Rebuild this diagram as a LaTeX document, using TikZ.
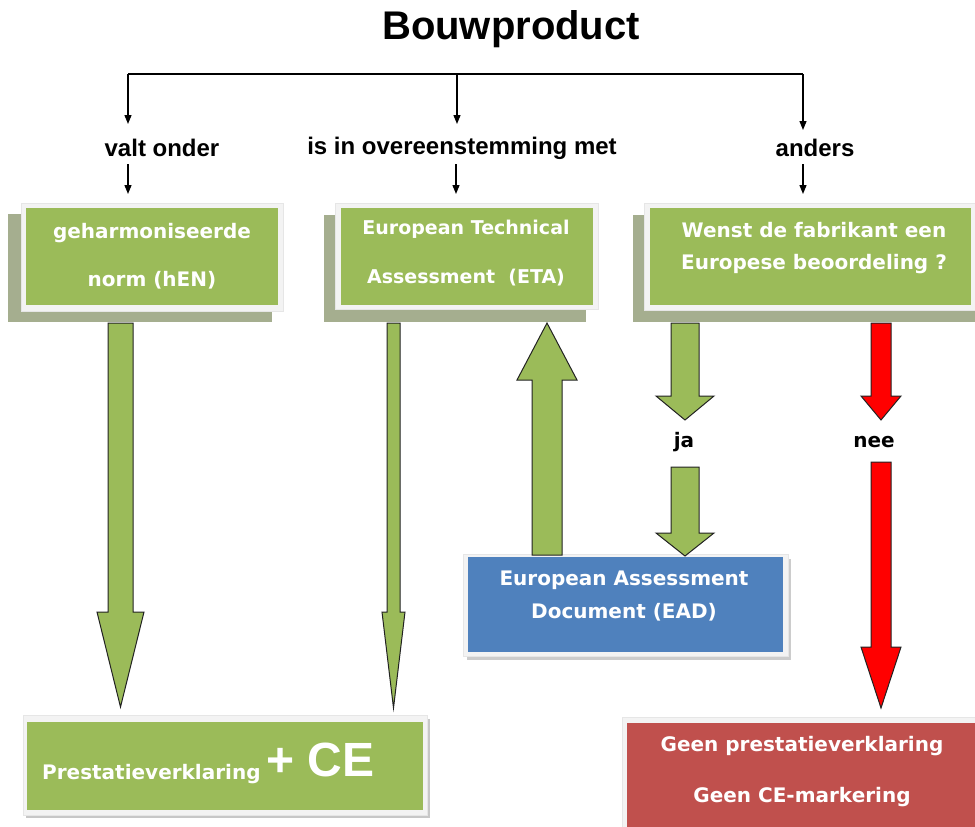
\documentclass[tikz,border=0pt]{standalone}
\usepackage{fontspec}
\setmainfont{Liberation Sans}
\newfontfamily\boxfnt{DejaVu Sans}
\usetikzlibrary{arrows.meta}
\definecolor{greenfill}{HTML}{9BBB59}
\definecolor{shadowgreen}{HTML}{A5AE8F}
\definecolor{framegray}{HTML}{F3F3F3}
\definecolor{frameedge}{HTML}{E6E6E6}
\definecolor{bluefill}{HTML}{4F81BD}
\definecolor{redbox}{HTML}{C0504D}
\definecolor{redarrow}{HTML}{FF0000}
\definecolor{arrowline}{HTML}{222222}
\newcommand{\blockarrow}[7]{% x, y start, y tip, half shaft, half head, y head base, colour
  \filldraw[fill=#7, draw=arrowline, line width=1pt, line join=miter]
    ({#1-#4},{#2}) -- ({#1+#4},{#2}) -- ({#1+#4},{#6}) -- ({#1+#5},{#6})
    -- ({#1},{#3}) -- ({#1-#5},{#6}) -- ({#1-#4},{#6}) -- cycle;}
\begin{document}
\begin{tikzpicture}[x=1pt,y=-1pt,
  shadowrect/.style={fill=shadowgreen, draw=none},
  framerect/.style={fill=framegray, draw=frameedge, line width=0.5pt},
  boxtext/.style={text=white, align=center, font=\boxfnt\bfseries\fontsize{20}{48}\selectfont},
  lbl/.style={font=\bfseries\fontsize{24}{26}\selectfont, text=black},
  treeline/.style={draw=black, line width=1.3pt},
  treearrow/.style={treeline, -{Triangle[length=9pt,width=7pt]}}
]
\useasboundingbox (0,0) rectangle (975,827);

% title
\node (title) at (511,29) {\bfseries\fontsize{40}{42}\selectfont Bouwproduct};

% tree connectors
\coordinate (j1) at (128,74);
\coordinate (j2) at (457,74);
\coordinate (j3) at (803,74);
\coordinate (e1) at (128,124);
\coordinate (e2) at (457,124);
\coordinate (e3) at (803,130);
\draw[treeline] (j1) -- (j3);
\draw[treearrow] (j1) -- (e1);
\draw[treearrow] (j2) -- (e2);
\draw[treearrow] (j3) -- (e3);

\node[lbl] (l1) at (162,148) {valt onder};
\node[lbl] (l2) at (462,148) {is in overeenstemming met};
\node[lbl] (l3) at (815,148) {anders};

\coordinate (s1) at (128,164);
\coordinate (s2) at (456,164);
\coordinate (s3) at (803,164);
\coordinate (t1) at (128,194);
\coordinate (t2) at (456,194);
\coordinate (t3) at (803,194);
\draw[treearrow] (s1) -- (t1);
\draw[treearrow] (s2) -- (t2);
\draw[treearrow] (s3) -- (t3);

% box 1: hEN
\fill[shadowrect] (8,214) rectangle (272,322);
\filldraw[framerect] (21,203) rectangle (283,311);
\fill[greenfill] (26,208) rectangle (278,305);
\node[boxtext] (hen) at (152,256) {geharmoniseerde\\norm (hEN)};

% box 2: ETA
\fill[shadowrect] (324,215) rectangle (586,322);
\filldraw[framerect] (335,203) rectangle (598,309);
\fill[greenfill] (341,208) rectangle (593,305);
\node[boxtext, font=\boxfnt\bfseries\fontsize{19}{49}\selectfont] (eta) at (466,253) {European Technical\\Assessment~~(ETA)};

% box 3: question
\fill[shadowrect] (633,215) rectangle (990,322);
\filldraw[framerect] (644,203) rectangle (990,310);
\fill[greenfill] (650,208) rectangle (971,305);
\node[boxtext, font=\boxfnt\bfseries\fontsize{20}{32}\selectfont] (vraag) at (814,248) {Wenst de fabrikant een\\Europese beoordeling ?};

% EAD box
\fill[black!20] (467,559) rectangle (791,660);
\filldraw[framerect] (463,554) rectangle (788,656);
\fill[bluefill] (468,557) rectangle (783,652);
\node[boxtext, font=\boxfnt\bfseries\fontsize{20}{33}\selectfont] (ead) at (624,596) {European Assessment\\Document (EAD)};

% Prestatieverklaring box
\fill[black!22] (26,719) rectangle (430,818);
\filldraw[framerect] (23,715) rectangle (427,815);
\fill[greenfill] (27,722) rectangle (423,810);
\node[anchor=base west, text=white, inner sep=0pt] (dop) at (42,779)
  {{\boxfnt\bfseries\fontsize{20}{24}\selectfont Prestatieverklaring}\hspace{6pt}\raisebox{3pt}{\bfseries\fontsize{48}{50}\selectfont + CE}};

% red box
\filldraw[framerect] (622,717) rectangle (990,840);
\fill[redbox] (627,723) rectangle (990,840);
\node[boxtext, font=\boxfnt\bfseries\fontsize{20}{51}\selectfont] (geen) at (802,772) {Geen prestatieverklaring\\Geen CE-markering};

% block arrows
\blockarrow{120.5}{323}{707}{12.5}{23.5}{612}{greenfill}
\blockarrow{393.5}{323}{708}{6.5}{11.5}{612}{greenfill}
\blockarrow{547}{555}{323}{15}{30}{380}{greenfill}
\blockarrow{685}{323}{420}{14}{29}{396}{greenfill}
\blockarrow{685}{467}{556}{14}{29}{533}{greenfill}
\blockarrow{881}{323}{420}{10}{20}{396}{redarrow}
\blockarrow{881}{462}{708}{10}{20}{647}{redarrow}

\node[font=\boxfnt\bfseries\fontsize{20}{24}\selectfont] (ja) at (684,442) {ja};
\node[font=\boxfnt\bfseries\fontsize{20}{24}\selectfont] (nee) at (874,442) {nee};
\end{tikzpicture}
\end{document}
